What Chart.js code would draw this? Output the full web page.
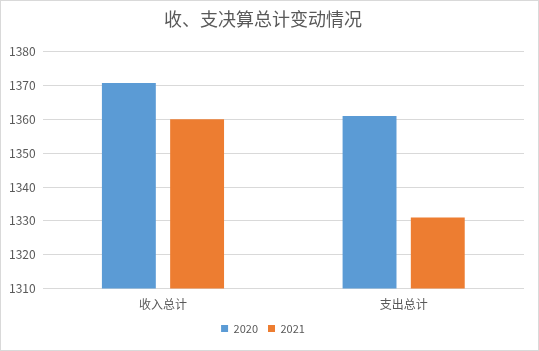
<!DOCTYPE html>
<html>
<head>
<meta charset="utf-8">
<script src="https://cdn.jsdelivr.net/npm/chart.js@4"></script>
<style>
  body { margin: 0; background: #fff; }
  #wrap { width: 539px; height: 351px; }
</style>
</head>
<body>
<div id="wrap"><canvas id="chart" width="539" height="351"></canvas></div>
<script>
const categories = ["收入总计", "支出总计"];
const values2020 = [1370.7, 1361];
const values2021 = [1360, 1331];
const seriesNames = ["2020", "2021"];

const FONT = "'Noto Sans CJK SC', 'Microsoft YaHei', sans-serif";

// thin grey frame round the whole chart
const framePlugin = {
  id: "frame",
  afterDraw(chart) {
    const c = chart.ctx;
    c.save();
    c.strokeStyle = "#d9d9d9";
    c.lineWidth = 1;
    c.strokeRect(0.5, 0.5, chart.width - 1, chart.height - 1);
    c.restore();
  }
};

const ctx = document.getElementById("chart").getContext("2d");
new Chart(ctx, {
  type: "bar",
  data: {
    labels: categories,
    datasets: [
      { label: seriesNames[0], data: values2020, backgroundColor: "#5b9bd5" },
      { label: seriesNames[1], data: values2021, backgroundColor: "#ed7d31" },
    ],
  },
  options: {
    responsive: false,
    animation: false,
    categoryPercentage: 0.567,
    barPercentage: 0.79,
    layout: { padding: { left: 2, right: 15, top: 8, bottom: 7 } },
    scales: {
      x: {
        grid: { display: false },
        border: { display: false },
        ticks: { color: "#595959", font: { family: FONT, size: 12 }, padding: 1 },
      },
      y: {
        min: 1310,
        max: 1380,
        ticks: {
          stepSize: 10,
          color: "#595959",
          font: { family: FONT, size: 12 },
          padding: 7,
          callback: (v) => String(v), // no thousands separator
        },
        grid: { color: "#d9d9d9", drawTicks: false },
        border: { display: false },
      },
    },
    plugins: {
      title: {
        display: true,
        text: "收、支决算总计变动情况",
        color: "#595959",
        font: { family: FONT, size: 18, weight: "normal" },
        padding: { top: 0, bottom: 22 },
      },
      legend: {
        position: "bottom",
        labels: {
          color: "#595959",
          font: { family: FONT, size: 11 },
          boxWidth: 7,
          boxHeight: 7,
          padding: 10,
        },
      },
      tooltip: { enabled: false },
    },
  },
  plugins: [framePlugin],
});
</script>
</body>
</html>
